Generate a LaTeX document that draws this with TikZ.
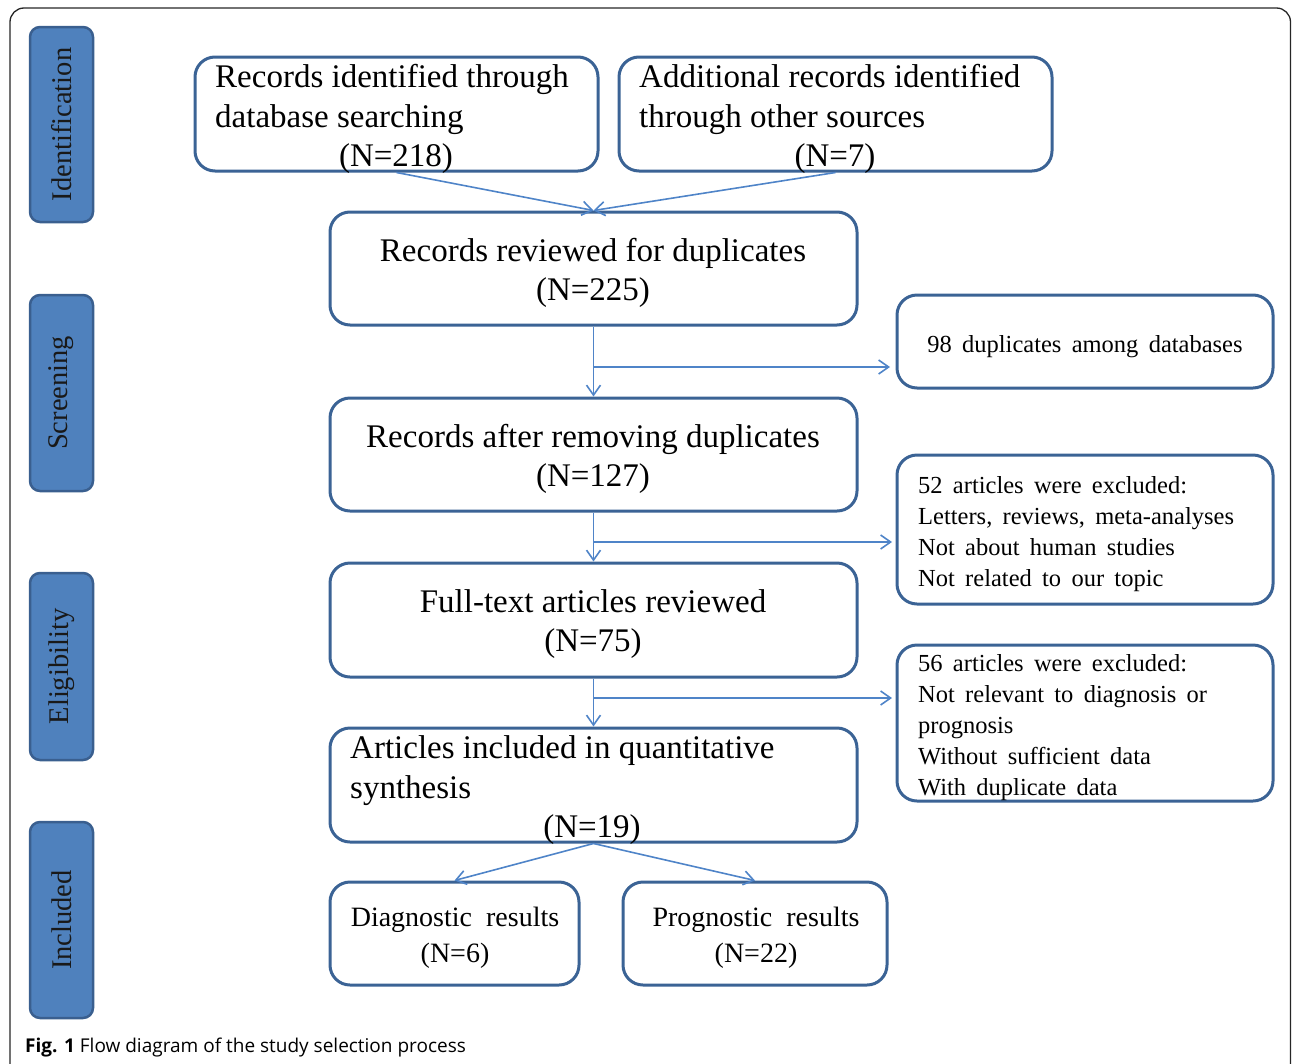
\documentclass[tikz,border=0pt]{standalone}
\usepackage{fontspec}
\setmainfont{Liberation Serif}
\newfontfamily\capfont{Open Sans}
\usetikzlibrary{arrows.meta}
\definecolor{boxline}{HTML}{3B6395}
\definecolor{arrowc}{HTML}{4F84C8}
\definecolor{barfill}{HTML}{4F81BD}
\definecolor{barline}{HTML}{3A5F8F}
\newcommand\smallfnt{\fontsize{24.5}{31}\selectfont\setlength{\spaceskip}{0.42em plus 0.1em}}
\newcommand\midfnt{\fontsize{28}{35}\selectfont\setlength{\spaceskip}{0.5em plus 0.1em}}
\tikzset{
  flowbox/.style={draw=boxline, line width=3pt, rounded corners=20pt, inner sep=0pt, fill=white},
  sidebar/.style={draw=barline, line width=2.5pt, fill=barfill, rounded corners=10pt, inner sep=0pt,
    rotate=90, minimum height=63pt, font=\fontsize{28.5}{32}\selectfont, text=black!90},
  bigtxt/.style={inner sep=0pt, font=\fontsize{33}{39}\selectfont},
  smalltxt/.style={inner sep=0pt, font=\smallfnt},
  midtxt/.style={inner sep=0pt, font=\midfnt},
  flow/.style={draw=arrowc, line width=1.6pt, -{Straight Barb[length=10pt,width=14pt,line width=1.6pt]}},
}
\begin{document}
\begin{tikzpicture}[x=1pt,y=-1pt]
\useasboundingbox (0,0) rectangle (1292,1063);
% outer frame
\draw[line width=1.3pt, draw=black!85, rounded corners=14pt] (10,1080) -- (10,8) -- (1290.5,8) -- (1290.5,1080);

% stage bars
\node[sidebar, minimum width=195pt] (s1) at (61.5,124.5) {Identification};
\node[sidebar, minimum width=196pt] (s2) at (61.5,393) {Screening};
\node[sidebar, minimum width=187pt] (s3) at (61.5,666.5) {Eligibility};
\node[sidebar, minimum width=196pt] (s4) at (61.5,920) {Included};

% boxes
\node[flowbox, minimum width=403pt, minimum height=114pt] (A) at (396.5,114) {};
\node[flowbox, minimum width=433pt, minimum height=114pt] (B) at (835.5,114) {};
\node[flowbox, minimum width=527pt, minimum height=113pt] (C) at (593.5,268.5) {};
\node[flowbox, minimum width=376pt, minimum height=93pt] (D) at (1085,341.5) {};
\node[flowbox, minimum width=527pt, minimum height=113pt] (E) at (593.5,454.5) {};
\node[flowbox, minimum width=376pt, minimum height=149pt] (F) at (1085,529.5) {};
\node[flowbox, minimum width=527pt, minimum height=114pt] (G) at (593.5,620) {};
\node[flowbox, minimum width=376pt, minimum height=156pt] (H) at (1085,723) {};
\node[flowbox, minimum width=527pt, minimum height=114pt] (I) at (593.5,785) {};
\node[flowbox, minimum width=249pt, minimum height=103pt] (J) at (454.5,933.5) {};
\node[flowbox, minimum width=264pt, minimum height=103pt] (K) at (755,933.5) {};

% texts
\node[bigtxt, anchor=base west] (a1) at (215,87) {Records identified through};
\node[bigtxt, anchor=base west] (a2) at (215,127) {database searching};
\node[bigtxt, anchor=base] (a3) at (396,166) {(N=218)};
\node[bigtxt, anchor=base west] (b1) at (639,87) {Additional records identified};
\node[bigtxt, anchor=base west] (b2) at (639,127) {through other sources};
\node[bigtxt, anchor=base] (b3) at (835,166) {(N=7)};
\node[bigtxt, anchor=base] (c1) at (593,261) {Records reviewed for duplicates};
\node[bigtxt, anchor=base] (c2) at (593,300) {(N=225)};
\node[smalltxt, anchor=base] (d1) at (1085,352) {98 duplicates among databases};
\node[bigtxt, anchor=base] (e1) at (593,447) {Records after removing duplicates};
\node[bigtxt, anchor=base] (e2) at (593,486) {(N=127)};
\node[smalltxt, anchor=base west] (f1) at (918,493) {52 articles were excluded:};
\node[smalltxt, anchor=base west] (f2) at (918,524) {Letters, reviews, meta-analyses};
\node[smalltxt, anchor=base west] (f3) at (918,555) {Not about human studies};
\node[smalltxt, anchor=base west] (f4) at (918,586) {Not related to our topic};
\node[bigtxt, anchor=base] (g1) at (593,612) {Full-text articles reviewed};
\node[bigtxt, anchor=base] (g2) at (593,651) {(N=75)};
\node[smalltxt, anchor=base west] (h1) at (918,671) {56 articles were excluded:};
\node[smalltxt, anchor=base west] (h2) at (918,702) {Not relevant to diagnosis or};
\node[smalltxt, anchor=base west] (h3) at (918,733) {prognosis};
\node[smalltxt, anchor=base west] (h4) at (918,764) {Without sufficient data};
\node[smalltxt, anchor=base west] (h5) at (918,795) {With duplicate data};
\node[bigtxt, anchor=base west] (i1) at (350,758) {Articles included in quantitative};
\node[bigtxt, anchor=base west] (i2) at (350,798) {synthesis};
\node[bigtxt, anchor=base] (i3) at (592,837) {(N=19)};
\node[midtxt, anchor=base] (j1) at (455,926) {Diagnostic results};
\node[midtxt, anchor=base] (j2) at (455,962) {(N=6)};
\node[midtxt, anchor=base] (k1) at (756,926) {Prognostic results};
\node[midtxt, anchor=base] (k2) at (756,962) {(N=22)};

% branch coordinates
\coordinate (br1) at (593.5,367);
\coordinate (br1e) at (890,367);
\coordinate (br2) at (593.5,542);
\coordinate (br2e) at (892,542);
\coordinate (br3) at (593.5,698);
\coordinate (br3e) at (892,698);

% connectors
\draw[flow] (A.south) -- (C.north);
\draw[flow] (B.south) -- (C.north);
\draw[flow] (C.south) -- (E.north);
\draw[flow] (br1) -- (br1e);
\draw[flow] (E.south) -- (G.north);
\draw[flow] (br2) -- (br2e);
\draw[flow] (G.south) -- (I.north);
\draw[flow] (br3) -- (br3e);
\draw[flow] (I.south) -- (J.north);
\draw[flow] (I.south) -- (K.north);

% caption
\node[anchor=base west, inner sep=0pt, font=\capfont\fontsize{19}{22}\selectfont] (cap) at (25,1052)
  {\textbf{Fig. 1} Flow diagram of the study selection process};
\end{tikzpicture}
\end{document}
